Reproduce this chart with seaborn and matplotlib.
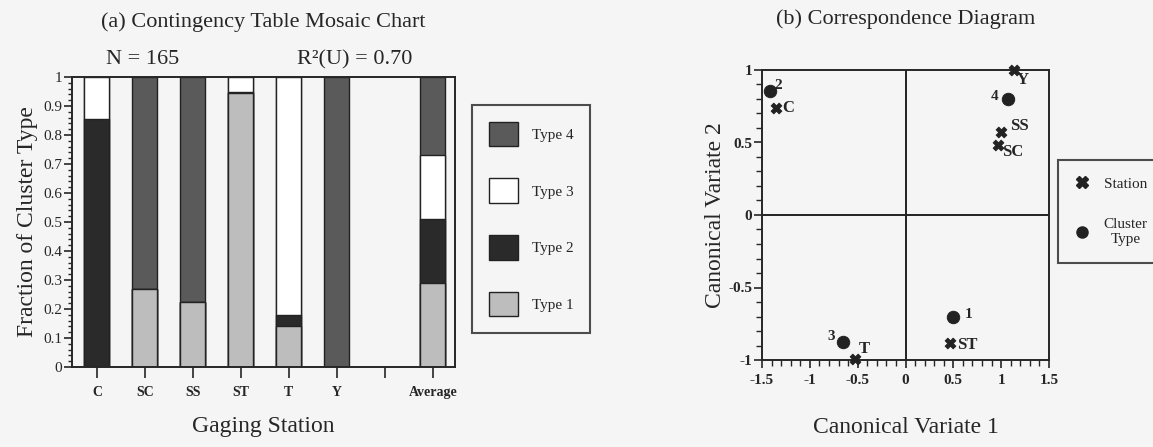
import pandas as pd
import matplotlib.pyplot as plt
import seaborn as sns
from matplotlib.patches import Patch
from matplotlib.lines import Line2D
from matplotlib.ticker import MultipleLocator

# panel (a) data: fraction of each cluster type per gaging station
stations = ["C", "SC", "SS", "ST", "T", "Y", "Average"]
order = ["C", "SC", "SS", "ST", "T", "Y", " ", "Average"]
type1 = [0.00, 0.27, 0.225, 0.945, 0.14, 0.00, 0.29]
type2 = [0.855, 0.00, 0.00, 0.005, 0.04, 0.00, 0.22]
type3 = [0.145, 0.00, 0.00, 0.05, 0.82, 0.00, 0.22]
type4 = [0.00, 0.73, 0.775, 0.00, 0.00, 1.00, 0.27]
frac_ticks = [0, 0.1, 0.2, 0.3, 0.4, 0.5, 0.6, 0.7, 0.8, 0.9, 1]
frac_labels = ["0", "0.1", "0.2", "0.3", "0.4", "0.5", "0.6", "0.7", "0.8", "0.9", "1"]

# panel (b) data: canonical variate coordinates
station_names = ["C", "SC", "SS", "ST", "T", "Y"]
station_cv1 = [-1.35, 0.97, 1.00, 0.46, -0.53, 1.13]
station_cv2 = [0.735, 0.48, 0.57, -0.885, -0.99, 1.00]
cluster_names = ["1", "2", "3", "4"]
cluster_cv1 = [0.50, -1.42, -0.65, 1.07]
cluster_cv2 = [-0.705, 0.855, -0.875, 0.80]
cv1_ticks = [-1.5, -1, -0.5, 0, 0.5, 1, 1.5]
cv1_labels = ["-1.5", "-1", "-0.5", "0", "0.5", "1", "1.5"]
cv2_ticks = [-1, -0.5, 0, 0.5, 1]
cv2_labels = ["-1", "-0.5", "0", "0.5", "1"]

type_colors = {"Type 1": "#bdbdbd", "Type 2": "#2a2a2a", "Type 3": "#ffffff", "Type 4": "#5a5a5a"}
bg = "#f5f5f5"

sns.set_style("ticks")
plt.rcParams["font.family"] = ["Liberation Serif", "DejaVu Serif"]
plt.rcParams["axes.linewidth"] = 1.4

fig = plt.figure(figsize=(11.53, 4.47), dpi=100, facecolor=bg)
ax1 = fig.add_axes([72 / 1153, 1 - 367 / 447, 383 / 1153, 290 / 447], facecolor=bg)
ax2 = fig.add_axes([762 / 1153, 1 - 360 / 447, 287 / 1153, 290 / 447], facecolor=bg)

# ---- (a) stacked bars: draw cumulative heights from the top down
df = pd.DataFrame({"station": stations, "Type 1": type1, "Type 2": type2,
                   "Type 3": type3, "Type 4": type4})
cum = df[["Type 1", "Type 2", "Type 3", "Type 4"]].cumsum(axis=1)
for t in ["Type 4", "Type 3", "Type 2", "Type 1"]:
    sns.barplot(x=df["station"], y=cum[t], order=order, color=type_colors[t],
                width=0.52, edgecolor="#222222", linewidth=1.0, saturation=1,
                ax=ax1)

ax1.set_xlim(-0.52, 7.46)
ax1.set_ylim(0, 1)
ax1.set_xticks(range(len(order)))
ax1.set_xticklabels(order, fontsize=10, fontweight="bold")
ax1.set_yticks(frac_ticks)
ax1.set_yticklabels(frac_labels, fontsize=11)
ax1.yaxis.set_minor_locator(MultipleLocator(0.02))
ax1.tick_params(axis="x", length=8, width=1.2, pad=6)
ax1.tick_params(axis="y", which="major", length=6, width=1.2, pad=1)
ax1.tick_params(axis="y", which="minor", length=3, width=1)
ax1.set_xlabel("Gaging Station", fontsize=17, labelpad=12)
ax1.set_ylabel("Fraction of Cluster Type", fontsize=17, labelpad=4)
ax1.set_title("(a) Contingency Table Mosaic Chart", fontsize=16, pad=36)
for s in ax1.spines.values():
    s.set_visible(True)
fig.text(143 / 1153, 1 - 60 / 447, "N = 165", fontsize=16, ha="center", va="center")
fig.text(355 / 1153, 1 - 60 / 447, "R²(U) = 0.70", fontsize=16, ha="center", va="center")

handles = [Patch(facecolor=type_colors[t], edgecolor="#222222", linewidth=1.0, label=t)
           for t in ["Type 4", "Type 3", "Type 2", "Type 1"]]
leg1 = fig.legend(handles=handles, loc="upper left", bbox_to_anchor=(472 / 1153, 1 - 105 / 447),
                  fontsize=11, frameon=True, fancybox=False, edgecolor="#222222",
                  handlelength=1.9, handleheight=2.1, labelspacing=2.1, borderpad=1.1,
                  handletextpad=0.9, borderaxespad=0)
leg1.get_frame().set_linewidth(1.5)
leg1.get_frame().set_facecolor(bg)

# ---- (b) correspondence diagram
sns.scatterplot(x=station_cv1, y=station_cv2, marker="X", s=60, color="#222222",
                edgecolor="#222222", ax=ax2, zorder=4)
sns.scatterplot(x=cluster_cv1, y=cluster_cv2, marker="o", s=80, color="#222222",
                edgecolor="#222222", ax=ax2, zorder=4)
for c in ax2.collections:
    c.set_clip_on(False)
ax2.axhline(0, color="#222222", lw=1.4)
ax2.axvline(0, color="#222222", lw=1.4)
ax2.set_xlim(-1.5, 1.5)
ax2.set_ylim(-1, 1)
ax2.set_xticks(cv1_ticks)
ax2.set_xticklabels(cv1_labels, fontsize=11, fontweight="bold")
ax2.set_yticks(cv2_ticks)
ax2.set_yticklabels(cv2_labels, fontsize=11, fontweight="bold")
ax2.xaxis.set_minor_locator(MultipleLocator(0.1))
ax2.yaxis.set_minor_locator(MultipleLocator(0.1))
ax2.tick_params(which="major", length=6, width=1.2, pad=4)
ax2.tick_params(which="minor", length=4, width=1)
ax2.tick_params(axis="y", pad=1)
ax2.set_xlabel("Canonical Variate 1", fontsize=17, labelpad=22)
ax2.set_ylabel("Canonical Variate 2", fontsize=17, labelpad=2)
ax2.set_title("(b) Correspondence Diagram", fontsize=16, pad=33)
for s in ax2.spines.values():
    s.set_visible(True)

station_offsets = {"C": (12, 0), "SC": (14, -7), "SS": (18, 6), "ST": (18, -2), "T": (10, 10), "Y": (9, -10)}
cluster_offsets = {"1": (15, 3), "2": (9, 6), "3": (-12, 5), "4": (-13, 2)}
for n, x, y in zip(station_names, station_cv1, station_cv2):
    ax2.annotate(n, (x, y), xytext=station_offsets[n], textcoords="offset pixels",
                 ha="center", va="center", fontsize=12, fontweight="bold")
for n, x, y in zip(cluster_names, cluster_cv1, cluster_cv2):
    ax2.annotate(n, (x, y), xytext=cluster_offsets[n], textcoords="offset pixels",
                 ha="center", va="center", fontsize=11, fontweight="bold")

handles2 = [Line2D([], [], marker="X", color="#222222", ls="", markersize=8, label="Station"),
            Line2D([], [], marker="o", color="#222222", ls="", markersize=8, label="Cluster\nType")]
leg2 = fig.legend(handles=handles2, loc="upper left", bbox_to_anchor=(1058 / 1153, 1 - 160 / 447),
                  fontsize=11, frameon=True, fancybox=False, edgecolor="#222222",
                  handlelength=1.0, labelspacing=1.8, borderpad=1.1, handletextpad=0.9,
                  borderaxespad=0)
leg2.get_frame().set_linewidth(1.5)
leg2.get_frame().set_facecolor(bg)
for t in leg2.get_texts():
    t.set_ha("center")

fig.savefig("out.png", dpi=100, facecolor=bg)
